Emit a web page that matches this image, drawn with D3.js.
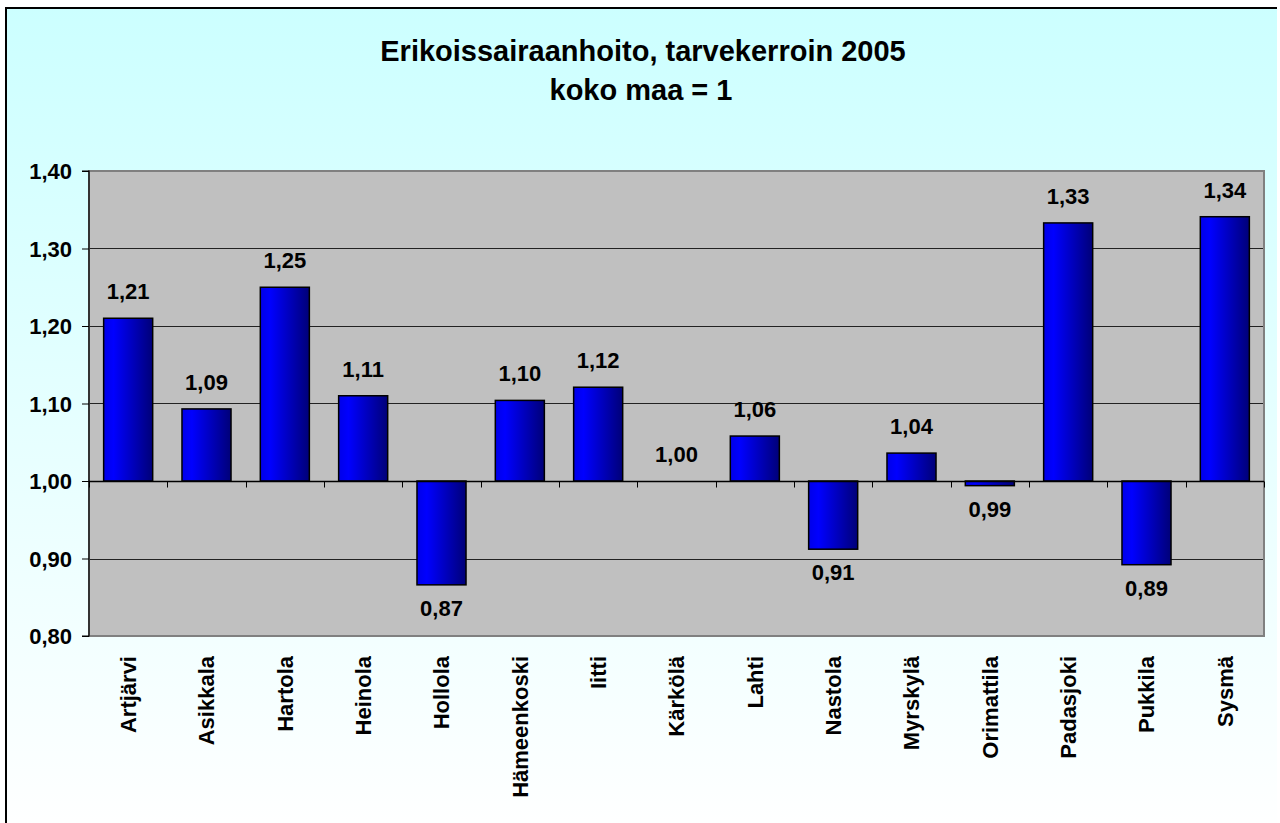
<!DOCTYPE html>
<html>
<head>
<meta charset="utf-8">
<script src="https://cdn.jsdelivr.net/npm/d3@7"></script>
<style>
  html, body { margin: 0; padding: 0; background: #ffffff; }
  svg { display: block; }
  text { font-family: "Liberation Sans", Arial, sans-serif; font-weight: bold; fill: #000; }
</style>
</head>
<body>
<svg id="chart" width="1280" height="823"></svg>
<script>
const titleLines = ["Erikoissairaanhoito, tarvekerroin 2005", "koko maa = 1"];
const categories = ["Artjärvi", "Asikkala", "Hartola", "Heinola", "Hollola", "Hämeenkoski", "Iitti", "Kärkölä", "Lahti", "Nastola", "Myrskylä", "Orimattila", "Padasjoki", "Pukkila", "Sysmä"];
const values = [1.21, 1.093, 1.25, 1.11, 0.866, 1.104, 1.121, 1.00, 1.058, 0.912, 1.036, 0.994, 1.333, 0.892, 1.341];
const yTicks = [0.80, 0.90, 1.00, 1.10, 1.20, 1.30, 1.40];
const baseline = 1.00;

(function () {
const svg = d3.select("#chart");
const defs = svg.append("defs");

const bg = defs.append("linearGradient").attr("id", "bgGrad")
  .attr("x1", 0).attr("y1", 0).attr("x2", 0).attr("y2", 1);
bg.append("stop").attr("offset", "0%").attr("stop-color", "#CCFFFF");
bg.append("stop").attr("offset", "100%").attr("stop-color", "#FFFFFF");

const barG = defs.append("linearGradient").attr("id", "barGrad")
  .attr("x1", 0).attr("y1", 0).attr("x2", 1).attr("y2", 0);
barG.append("stop").attr("offset", "0%").attr("stop-color", "#0000E8");
barG.append("stop").attr("offset", "20%").attr("stop-color", "#0000FF");
barG.append("stop").attr("offset", "100%").attr("stop-color", "#000078");

// chart area background and border
svg.append("rect").attr("x", 5).attr("y", 7).attr("width", 1272).attr("height", 830)
  .attr("fill", "url(#bgGrad)");
svg.append("line").attr("x1", 6).attr("x2", 6).attr("y1", 7).attr("y2", 823)
  .attr("stroke", "#000").attr("stroke-width", 2);
svg.append("line").attr("x1", 5).attr("x2", 1277).attr("y1", 8).attr("y2", 8)
  .attr("stroke", "#000").attr("stroke-width", 2);

// title
svg.append("text").attr("x", 643).attr("y", 61).attr("text-anchor", "middle")
  .style("font-size", "29px").text(titleLines[0]);
svg.append("text").attr("x", 641).attr("y", 100).attr("text-anchor", "middle")
  .style("font-size", "29px").text(titleLines[1]);

const pLeft = 89, pRight = 1264, pTop = 171, pBottom = 636;

const x = d3.scaleBand().domain(categories).range([pLeft, pRight]).paddingInner(0.374).paddingOuter(0.187);
const y = d3.scaleLinear().domain([0.80, 1.40]).range([pBottom, pTop]);

// plot area
svg.append("rect").attr("x", pLeft).attr("y", pTop).attr("width", pRight - pLeft).attr("height", pBottom - pTop)
  .attr("fill", "#C0C0C0");

// gridlines
svg.append("g").selectAll("line").data(yTicks.filter(t => t > 0.80 && t < 1.40 && t !== baseline))
  .join("line")
  .attr("x1", pLeft).attr("x2", pRight)
  .attr("y1", d => Math.round(y(d)) + 0.5).attr("y2", d => Math.round(y(d)) + 0.5)
  .attr("stroke", "#222").attr("stroke-width", 1);

// plot border
svg.append("rect").attr("x", pLeft).attr("y", pTop).attr("width", pRight - pLeft).attr("height", pBottom - pTop)
  .attr("fill", "none").attr("stroke", "#808080").attr("stroke-width", 2);

// bars
svg.append("g").selectAll("rect").data(categories)
  .join("rect")
  .attr("x", d => x(d))
  .attr("width", x.bandwidth())
  .attr("y", (d, i) => y(Math.max(values[i], baseline)))
  .attr("height", (d, i) => Math.abs(y(values[i]) - y(baseline)))
  .attr("fill", "url(#barGrad)")
  .attr("stroke", "#000").attr("stroke-width", 1.5);

// y axis
const yAxis = d3.axisLeft(y).tickValues(yTicks).tickSize(7).tickPadding(10)
  .tickFormat(d => d3.format(".2f")(d).replace(".", ","));
const yg = svg.append("g").attr("transform", `translate(${pLeft},0)`).call(yAxis);
yg.select(".domain").attr("stroke", "#000").attr("stroke-width", 1.2).attr("d", `M-7,${y(1.40)}H0V${y(0.80)}H-7`);
yg.selectAll(".tick line").attr("stroke", "#000");
yg.selectAll(".tick text").style("font-size", "22px").style("font-family", "'Liberation Sans', Arial, sans-serif")
  .style("font-weight", "bold").attr("dy", "0.36em");

// x axis line at baseline with ticks at category boundaries
const y0 = Math.round(y(baseline)) + 0.5;
svg.append("line").attr("x1", pLeft).attr("x2", pRight).attr("y1", y0).attr("y2", y0)
  .attr("stroke", "#000").attr("stroke-width", 1.5);
const boundaries = d3.range(categories.length + 1).map(k => pLeft + k * x.step());
svg.append("g").selectAll("line").data(boundaries)
  .join("line")
  .attr("x1", d => Math.round(d) + 0.5).attr("x2", d => Math.round(d) + 0.5)
  .attr("y1", y0).attr("y2", y0 + 6)
  .attr("stroke", "#000").attr("stroke-width", 1);

// category labels (rotated)
svg.append("g").selectAll("text").data(categories)
  .join("text")
  .attr("transform", d => `translate(${x(d) + x.bandwidth() / 2},656) rotate(-90)`)
  .attr("text-anchor", "end")
  .attr("dy", "0.36em")
  .style("font-size", "22px")
  .text(d => d);

// value labels
svg.append("g").selectAll("text").data(categories)
  .join("text")
  .attr("x", d => x(d) + x.bandwidth() / 2)
  .attr("y", (d, i) => values[i] >= baseline ? y(values[i]) - 19 : y(values[i]) + 31)
  .attr("text-anchor", "middle")
  .style("font-size", "22px")
  .text((d, i) => d3.format(".2f")(values[i]).replace(".", ","));
})();
</script>
</body>
</html>
